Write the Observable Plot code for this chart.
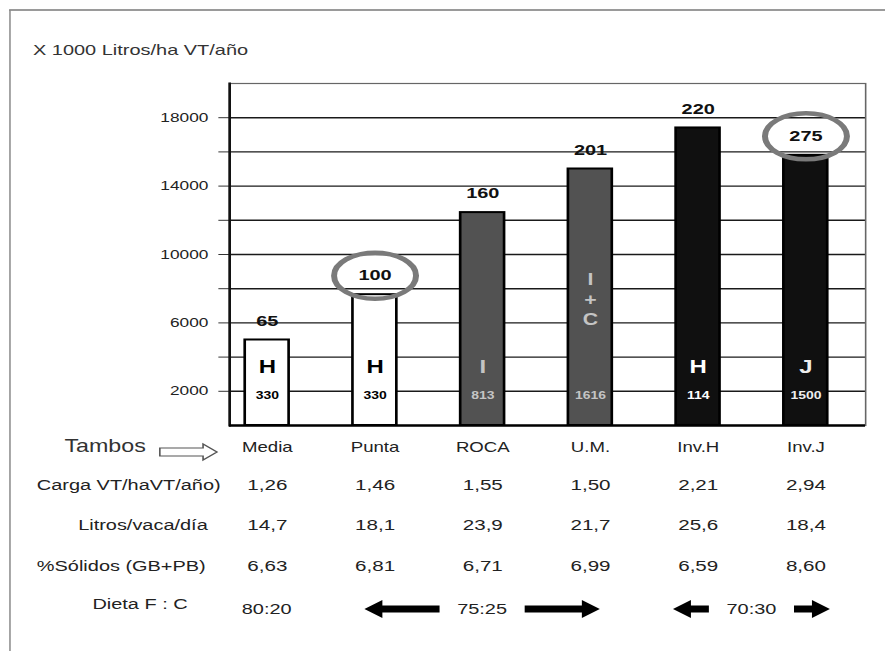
<!DOCTYPE html>
<html>
<head>
<meta charset="utf-8">
<script src="https://cdn.jsdelivr.net/npm/d3@7"></script>
<script src="https://cdn.jsdelivr.net/npm/@observablehq/plot@0.6"></script>
<style>
  html, body { margin: 0; padding: 0; background: #fff; overflow: hidden; }
  #wrap { position: absolute; left: 0; top: 0; height: 651px; transform-origin: 0 0; font-family: "Liberation Sans", Arial, sans-serif; }
  #border { position: absolute; top: 9px; height: 660px; border-left: 1.6px solid #7a7a7a; border-top: 2px solid #9a9a9a; }
  #title { position: absolute; top: 41px; font-size: 15px; line-height: 17px; color: #333; white-space: nowrap; }
  #chart { position: absolute; left: 0; top: 0; }
</style>
</head>
<body>
<div id="wrap"><div id="border"></div><div id="title">X 1000 Litros/ha VT/año</div><div id="chart"></div></div>
<script>
// ---------- data ----------
const tambos     = ["Media", "Punta", "ROCA", "U.M.", "Inv.H", "Inv.J"];
const produccion = [5000, 7650, 12450, 15000, 17400, 15800];
const etiquetas  = ["65", "100", "160", "201", "220", "275"];
const destacados = ["Punta", "Inv.J"];
const razas      = ["H", "H", "I", "I\n+\nC", "H", "J"];
const vacas      = ["330", "330", "813", "1616", "114", "1500"];
const carga      = ["1,26", "1,46", "1,55", "1,50", "2,21", "2,94"];
const litros     = ["14,7", "18,1", "23,9", "21,7", "25,6", "18,4"];
const solidos    = ["6,63", "6,81", "6,71", "6,99", "6,59", "8,60"];
const dietaTexto = ["80:20", "75:25", "70:30"];
const dietaDesde = ["Media", "Punta", "Inv.H"];
const dietaHasta = ["Media", "U.M.", "Inv.J"];
const filas      = ["Carga VT/haVT/año)", "Litros/vaca/día", "%Sólidos (GB+PB)", "Dieta F : C"];
const yTicks     = [2000, 4000, 6000, 8000, 10000, 12000, 14000, 16000, 18000];
const yLabels    = [2000, 6000, 10000, 14000, 18000];

// ---------- styles ----------
const S = 1.33;              // horizontal stretch of the original picture
const W = 885 / S;
const FONT = "Liberation Sans, Arial, sans-serif";
const barFill = {Media: "#ffffff", Punta: "#ffffff", ROCA: "#525252", "U.M.": "#525252", "Inv.H": "#101010", "Inv.J": "#101010"};
const inkFill = {Media: "#000000", Punta: "#000000", ROCA: "#c4c4c4", "U.M.": "#c4c4c4", "Inv.H": "#ffffff", "Inv.J": "#eeeeee"};
const rowLayout = [{dy: 65, dx: -6.8}, {dy: 105, dx: -16.5}, {dy: 146, dx: -18}, {dy: 184, dx: -31.6}];

const data = tambos.map((t, i) => ({
  tambo: t, prod: produccion[i], etiqueta: etiquetas[i], raza: razas[i], vacas: vacas[i],
  carga: carga[i], litros: litros[i], solidos: solidos[i]
}));
const dieta = dietaTexto.map((t, i) => ({texto: t, desde: dietaDesde[i], hasta: dietaHasta[i]}));

const ellipse = {
  draw(ctx, size) {
    const r = Math.sqrt(size / Math.PI), rx = r * 1.34, ry = r, k = 0.5523;
    ctx.moveTo(rx, 0);
    ctx.bezierCurveTo(rx, ry * k, rx * k, ry, 0, ry);
    ctx.bezierCurveTo(-rx * k, ry, -rx, ry * k, -rx, 0);
    ctx.bezierCurveTo(-rx, -ry * k, -rx * k, -ry, 0, -ry);
    ctx.bezierCurveTo(rx * k, -ry, rx, -ry * k, rx, 0);
    ctx.closePath();
  }
};

function arrowPath(x0, x1, y) {
  const dir = Math.sign(x1 - x0), hl = 13.5, xb = x1 - dir * hl;
  return `M${x0},${y - 3.5}L${xb},${y - 3.5}L${xb},${y - 9}L${x1},${y}L${xb},${y + 9}L${xb},${y + 3.5}L${x0},${y + 3.5}Z`;
}

function extras(index, scales, values, dim) {
  const sx = scales.x;
  const bw = typeof sx.bandwidth === "function" ? sx.bandwidth() : (sx.bandwidth || 0);
  const cx = (t) => sx(t) + bw / 2;
  const y0 = dim.height - dim.marginBottom;
  const g = d3.create("svg:g");
  // hollow "Tambos" arrow
  const ya = y0 + 27, xl = dim.marginLeft - 52, xr = dim.marginLeft - 9, hl = 10.5;
  g.append("path")
    .attr("d", `M${xl},${ya - 4}H${xr - hl}V${ya - 8}L${xr},${ya}L${xr - hl},${ya + 8}V${ya + 4}H${xl}Z`)
    .attr("fill", "#fff").attr("stroke", "#555").attr("stroke-width", 1.2);
  // Dieta F:C row
  const yd = y0 + 184;
  for (const grp of dieta) {
    const a = cx(grp.desde), b = cx(grp.hasta), mid = (a + b) / 2;
    g.append("text")
      .attr("x", mid).attr("y", yd).attr("dy", "0.35em")
      .attr("text-anchor", "middle")
      .attr("font-family", FONT).attr("font-size", 15).attr("fill", "#222")
      .text(grp.texto);
    if (grp.desde !== grp.hasta) {
      const lt = mid - 32, lh = Math.min(a - 7.5, lt - 27);
      const rt = mid + 32, rh = Math.max(b + 7.5, rt + 27);
      g.append("path").attr("d", arrowPath(lt, lh, yd)).attr("fill", "#000");
      g.append("path").attr("d", arrowPath(rt, rh, yd)).attr("fill", "#000");
    }
  }
  return g.node();
}

const inBar = (filterFn, opts) => Object.entries(inkFill).map(([t, c]) =>
  Plot.text(data.filter((d) => d.tambo === t && filterFn(d)), {...opts, fill: c}));

const chart = Plot.plot({
  width: W,
  height: 651,
  marginLeft: 229 / S,
  marginRight: 20 / S,
  marginTop: 83,
  marginBottom: 226,
  style: {fontFamily: FONT, background: "transparent", color: "#222"},
  x: {domain: tambos, paddingInner: 0.596, paddingOuter: 0.221, align: 0.3, axis: null},
  y: {domain: [0, 20000]},
  color: {type: "identity"},
  marks: [
    Plot.ruleY(yTicks, {stroke: "#1a1a1a", strokeWidth: 1.4}),
    Plot.frame({stroke: "#666", strokeWidth: 1.2}),
    Plot.axisY({
      ticks: yTicks,
      tickFormat: (d) => (yLabels.includes(d) ? String(d) : ""),
      tickSize: 8, tickPadding: 8, fontSize: 13, stroke: "#333", fill: "#222", label: null
    }),
    Plot.barY(data, {x: "tambo", y: "prod", fill: (d) => barFill[d.tambo], stroke: "#000", strokeWidth: 2}),
    Plot.frame({anchor: "left", stroke: "#111", strokeWidth: 2}),
    Plot.ruleY([0], {stroke: "#000", strokeWidth: 2.5}),
    // value labels and highlights
    Plot.text(data, {x: "tambo", y: "prod", text: "etiqueta", dy: -19, fontSize: 15, fontWeight: "bold", fill: "#111"}),
    Plot.dot(data.filter((d) => destacados.includes(d.tambo)),
      {x: "tambo", y: "prod", dy: -19, r: 23, symbol: ellipse, stroke: "#7a7a7a", strokeWidth: 4.5, fill: "none"}),
    // letters & numbers inside bars
    ...inBar((d) => !d.raza.includes("\n"), {x: "tambo", text: "raza", frameAnchor: "bottom", dy: -52, fontSize: 18, fontWeight: "bold"}),
    ...inBar((d) => d.raza.includes("\n"), {x: "tambo", text: "raza", frameAnchor: "bottom", dy: -100, fontSize: 16, lineHeight: 1.25, fontWeight: "bold"}),
    ...inBar(() => true, {x: "tambo", text: "vacas", frameAnchor: "bottom", dy: -26, fontSize: 10.5, fontWeight: "bold"}),
    // table below the chart
    Plot.text(data, {x: "tambo", text: "tambo", frameAnchor: "bottom", dy: 27, fontSize: 14, fill: "#222"}),
    Plot.text(["Tambos"], {frameAnchor: "bottom-left", textAnchor: "end", dx: -63, dy: 27, fontSize: 17.5, fill: "#333"}),
    Plot.text(data, {x: "tambo", text: "carga", frameAnchor: "bottom", dy: rowLayout[0].dy, fontSize: 15.5, fill: "#222"}),
    Plot.text(data, {x: "tambo", text: "litros", frameAnchor: "bottom", dy: rowLayout[1].dy, fontSize: 15.5, fill: "#222"}),
    Plot.text(data, {x: "tambo", text: "solidos", frameAnchor: "bottom", dy: rowLayout[2].dy, fontSize: 15.5, fill: "#222"}),
    ...filas.map((f, i) => Plot.text([f], {frameAnchor: "bottom-left", textAnchor: "end", dx: rowLayout[i].dx, dy: rowLayout[i].dy, fontSize: 15, fill: "#222"})),
    extras
  ]
});

const wrap = document.getElementById("wrap");
wrap.style.width = W + "px";
wrap.style.transform = `scaleX(${S})`;
document.getElementById("border").style.left = (9 / S) + "px";
document.getElementById("border").style.width = (W) + "px";
document.getElementById("title").style.left = (33 / S) + "px";
document.getElementById("chart").appendChild(chart);
</script>
</body>
</html>
